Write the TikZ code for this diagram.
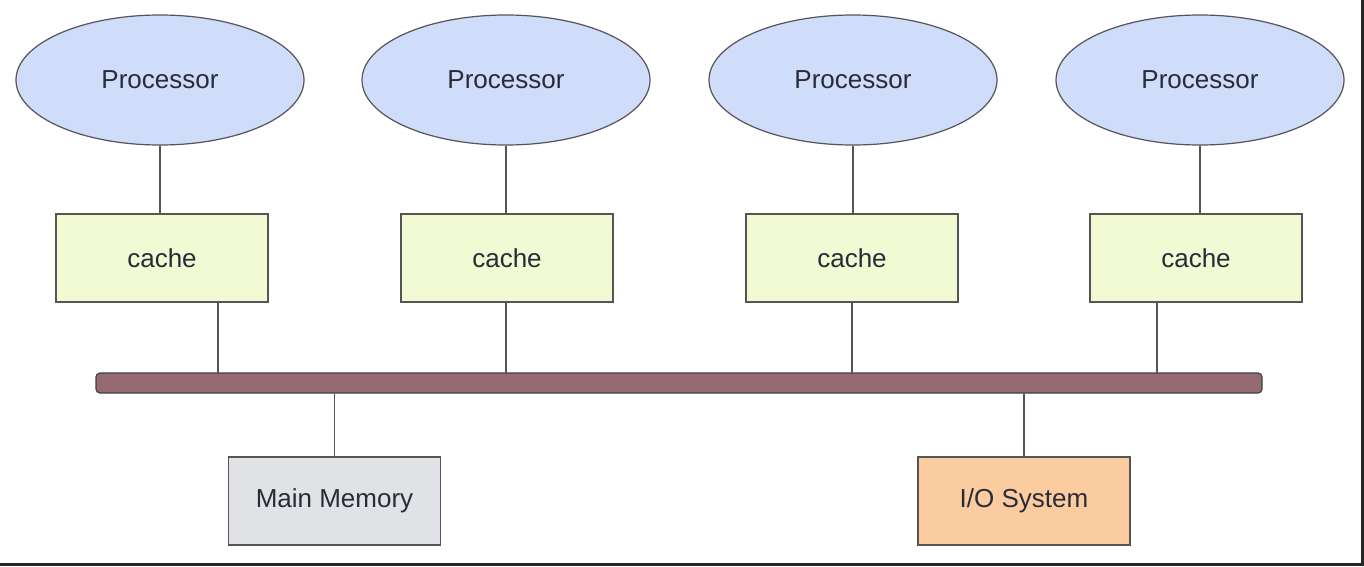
\documentclass[tikz,border=0pt]{standalone}
\usepackage{fontspec}
\setmainfont{Liberation Sans}
\usetikzlibrary{shapes.geometric}
\definecolor{procfill}{HTML}{CFDCFA}
\definecolor{cachefill}{HTML}{F1FAD3}
\definecolor{memfill}{HTML}{E1E2E6}
\definecolor{iofill}{HTML}{FACCA0}
\definecolor{busfill}{HTML}{966A71}
\definecolor{edge}{HTML}{555555}
\definecolor{txt}{HTML}{2B2B38}
\tikzset{
  proc/.style={ellipse, draw=edge, line width=1.2pt, fill=procfill, minimum width=288pt, minimum height=130pt, inner sep=0pt, text=txt, font=\fontsize{26}{30}\selectfont},
  box/.style={rectangle, draw=edge, line width=1.2pt, minimum width=212pt, minimum height=88pt, inner sep=0pt, text=txt, font=\fontsize{26}{30}\selectfont},
  link/.style={draw=edge, line width=1.3pt},
}
\begin{document}
\begin{tikzpicture}[x=1pt,y=-1pt]
\useasboundingbox (0,0) rectangle (1364,566);
\fill[white] (0,0) rectangle (1364,566);
\fill[black!85] (1361,0) rectangle (1364,566);
\fill[black!85] (0,563) rectangle (1364,566);
% processors
\node[proc] (p1) at (160,80) {Processor};
\node[proc] (p2) at (506,80) {Processor};
\node[proc] (p3) at (853,80) {Processor};
\node[proc] (p4) at (1200,80) {Processor};
% caches
\node[box, fill=cachefill] (c1) at (162,258) {cache};
\node[box, fill=cachefill] (c2) at (507,258) {cache};
\node[box, fill=cachefill] (c3) at (852,258) {cache};
\node[box, fill=cachefill] (c4) at (1196,258) {cache};
% bus
\node[rectangle, rounded corners=4pt, draw=black!75, line width=1.2pt, fill=busfill, minimum width=1166pt, minimum height=20pt, inner sep=0pt] (bus) at (679,383) {};
% bottom
\node[box, fill=memfill] (mem) at (334.5,501) {Main Memory};
\node[box, fill=iofill] (io) at (1024,501) {I/O System};
% links
\draw[link] (p1.south) -- (p1.south |- c1.north);
\draw[link] (p2.south) -- (p2.south |- c2.north);
\draw[link] (p3.south) -- (p3.south |- c3.north);
\draw[link] (p4.south) -- (p4.south |- c4.north);
\coordinate (b1) at (218,373);
\coordinate (b2) at (506,373);
\coordinate (b3) at (852,373);
\coordinate (b4) at (1157,373);
\draw[link] (c1.south -| b1) -- (b1);
\draw[link] (c2.south -| b2) -- (b2);
\draw[link] (c3.south -| b3) -- (b3);
\draw[link] (c4.south -| b4) -- (b4);
\draw[link] (bus.south -| mem.north) -- (mem.north);
\draw[link] (bus.south -| io.north) -- (io.north);
\end{tikzpicture}
\end{document}
